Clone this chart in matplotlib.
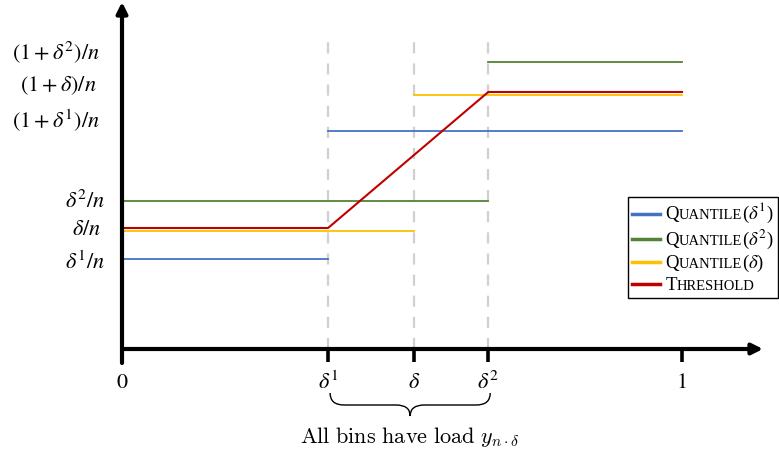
import numpy as np
import matplotlib.pyplot as plt
from matplotlib.path import Path
from matplotlib.patches import PathPatch
from matplotlib.lines import Line2D
from matplotlib.offsetbox import (AnchoredOffsetbox, DrawingArea, HPacker,
                                  TextArea, VPacker)

# x positions of the breakpoints (fraction of the unit axis)
x_ticks = [0.0, 0.368, 0.521, 0.654, 1.0]
x_tick_labels = ["0", r"$\delta^1$", r"$\delta$", r"$\delta^2$", "1"]

# y levels (schematic units, 0 = x axis)
y_levels = [90, 120, 148, 218, 256, 287]
y_labels = [r"$\delta^1/n$", r"$\delta/n$", r"$\delta^2/n$",
            r"$(1+\delta^1)/n$", r"$(1+\delta)/n$", r"$(1+\delta^2)/n$"]

d1, d, d2 = x_ticks[1], x_ticks[2], x_ticks[3]

# series: (x points, y points)
quant_d1_x = [[0, d1], [d1, 1]]
quant_d1_y = [[90, 90], [218, 218]]
quant_d2_x = [[0, d2], [d2, 1]]
quant_d2_y = [[148, 148], [287, 287]]
quant_d_x = [[0, d], [d, 1]]
quant_d_y = [[118, 118], [254, 254]]
thresh_x = [0, d1, d2, 1]
thresh_y = [121, 121, 257, 257]

colors = {"blue": "#4472C4", "green": "#548235", "yellow": "#FFC000", "red": "#C00000"}

W, H = 779, 454
X0, XSCALE, Y0 = 122, 560, 349  # pixel origin and scale

fig = plt.figure(figsize=(W / 100, H / 100), dpi=100)
ax = fig.add_axes([0, 0, 1, 1])
ax.set_xlim(-X0 / XSCALE, (W - X0) / XSCALE)
ax.set_ylim(Y0 - H, Y0)
ax.axis("off")

def px(dx):
    return dx / XSCALE

# dashed guides
for xv in [d1, d, d2]:
    ax.plot([xv, xv], [0, 316], color="#d0d0d0", lw=1.6, ls=(0, (5, 4.5)), zorder=1)

# series lines
for xs, ys in zip(quant_d1_x, quant_d1_y):
    ax.plot(xs, ys, color=colors["blue"], lw=1.3, zorder=2)
for xs, ys in zip(quant_d2_x, quant_d2_y):
    ax.plot(xs, ys, color=colors["green"], lw=1.3, zorder=2)
for xs, ys in zip(quant_d_x, quant_d_y):
    ax.plot(xs, ys, color=colors["yellow"], lw=1.3, zorder=2)
ax.plot(thresh_x, thresh_y, color=colors["red"], lw=1.5, zorder=3)

# axes with arrows
ax.annotate("", xy=(px(763 - X0), 0), xytext=(0, 0),
            arrowprops=dict(arrowstyle="-|>", lw=3, color="k", mutation_scale=16,
                            shrinkA=0, shrinkB=0), zorder=4)
ax.annotate("", xy=(0, Y0 - 2), xytext=(0, -14),
            arrowprops=dict(arrowstyle="-|>", lw=3, color="k", mutation_scale=16,
                            shrinkA=0, shrinkB=0), zorder=4)

# ticks and tick labels
for xv, lab in zip(x_ticks, x_tick_labels):
    if xv > 0:
        ax.plot([xv, xv], [0, -13], color="k", lw=2.6, solid_capstyle="butt", zorder=4)
    ax.text(xv, -34, lab, ha="center", va="center", fontsize=16,
            math_fontfamily="stix", family="STIXGeneral")

label_shift = [-3, 0, 0, 10, 7, 10]
label_right = [105, 101, 105, 100, 97, 100]
for yv, lab, sh, xr in zip(y_levels, y_labels, label_shift, label_right):
    ax.text(px(xr - X0), yv + sh, lab, ha="right", va="center", fontsize=16,
            math_fontfamily="stix")

# brace under the delta range
bx0, bx1 = d1 + px(2), d2 + px(2)
bm = (bx0 + bx1) / 2
top, mid, tip = -44, -56, -67
r = px(14)
verts = [(bx0, top), (bx0, mid), (bx0 + r, mid),
         (bm - r, mid),
         (bm, mid), (bm, tip),
         (bm, mid), (bm + r, mid),
         (bx1 - r, mid),
         (bx1, mid), (bx1, top)]
codes = [Path.MOVETO, Path.CURVE3, Path.CURVE3,
         Path.LINETO,
         Path.CURVE3, Path.CURVE3,
         Path.CURVE3, Path.CURVE3,
         Path.LINETO,
         Path.CURVE3, Path.CURVE3]
ax.add_patch(PathPatch(Path(verts, codes), fill=False, lw=1.0, color="k"))
ax.text(bm, -88, r"$\mathrm{All\ bins\ have\ load}\ y_{n\cdot\delta}$", ha="center",
        va="center", fontsize=16, math_fontfamily="cm")

# legend with small caps
legend_items = [("QUANTILE", r"($\delta^1$)", colors["blue"]),
                ("QUANTILE", r"($\delta^2$)", colors["green"]),
                ("QUANTILE", r"($\delta$)", colors["yellow"]),
                ("THRESHOLD", "", colors["red"])]
big = dict(fontsize=13.5, family="Liberation Serif", math_fontfamily="stix")
small = dict(fontsize=10.5, family="Liberation Serif")
rows = []
for word, tail, col in legend_items:
    da = DrawingArea(24, 10, 0, 0)
    da.add_artist(Line2D([0, 20], [4, 4], color=col, lw=2.5))
    parts = [da, TextArea(word[0], textprops=big), TextArea(word[1:], textprops=small)]
    if tail:
        parts.append(TextArea(tail, textprops=big))
    rows.append(HPacker(children=parts, align="baseline", pad=0, sep=0))
box = VPacker(children=rows, align="left", pad=0, sep=1.5)
anch = AnchoredOffsetbox(loc="upper left", child=box, pad=0.3, borderpad=0,
                         frameon=True, bbox_to_anchor=(628 / W, 1 - 197 / H),
                         bbox_transform=fig.transFigure)
anch.patch.set_edgecolor("k")
anch.patch.set_linewidth(1.0)
ax.add_artist(anch)

fig.savefig("out.png", dpi=100)
